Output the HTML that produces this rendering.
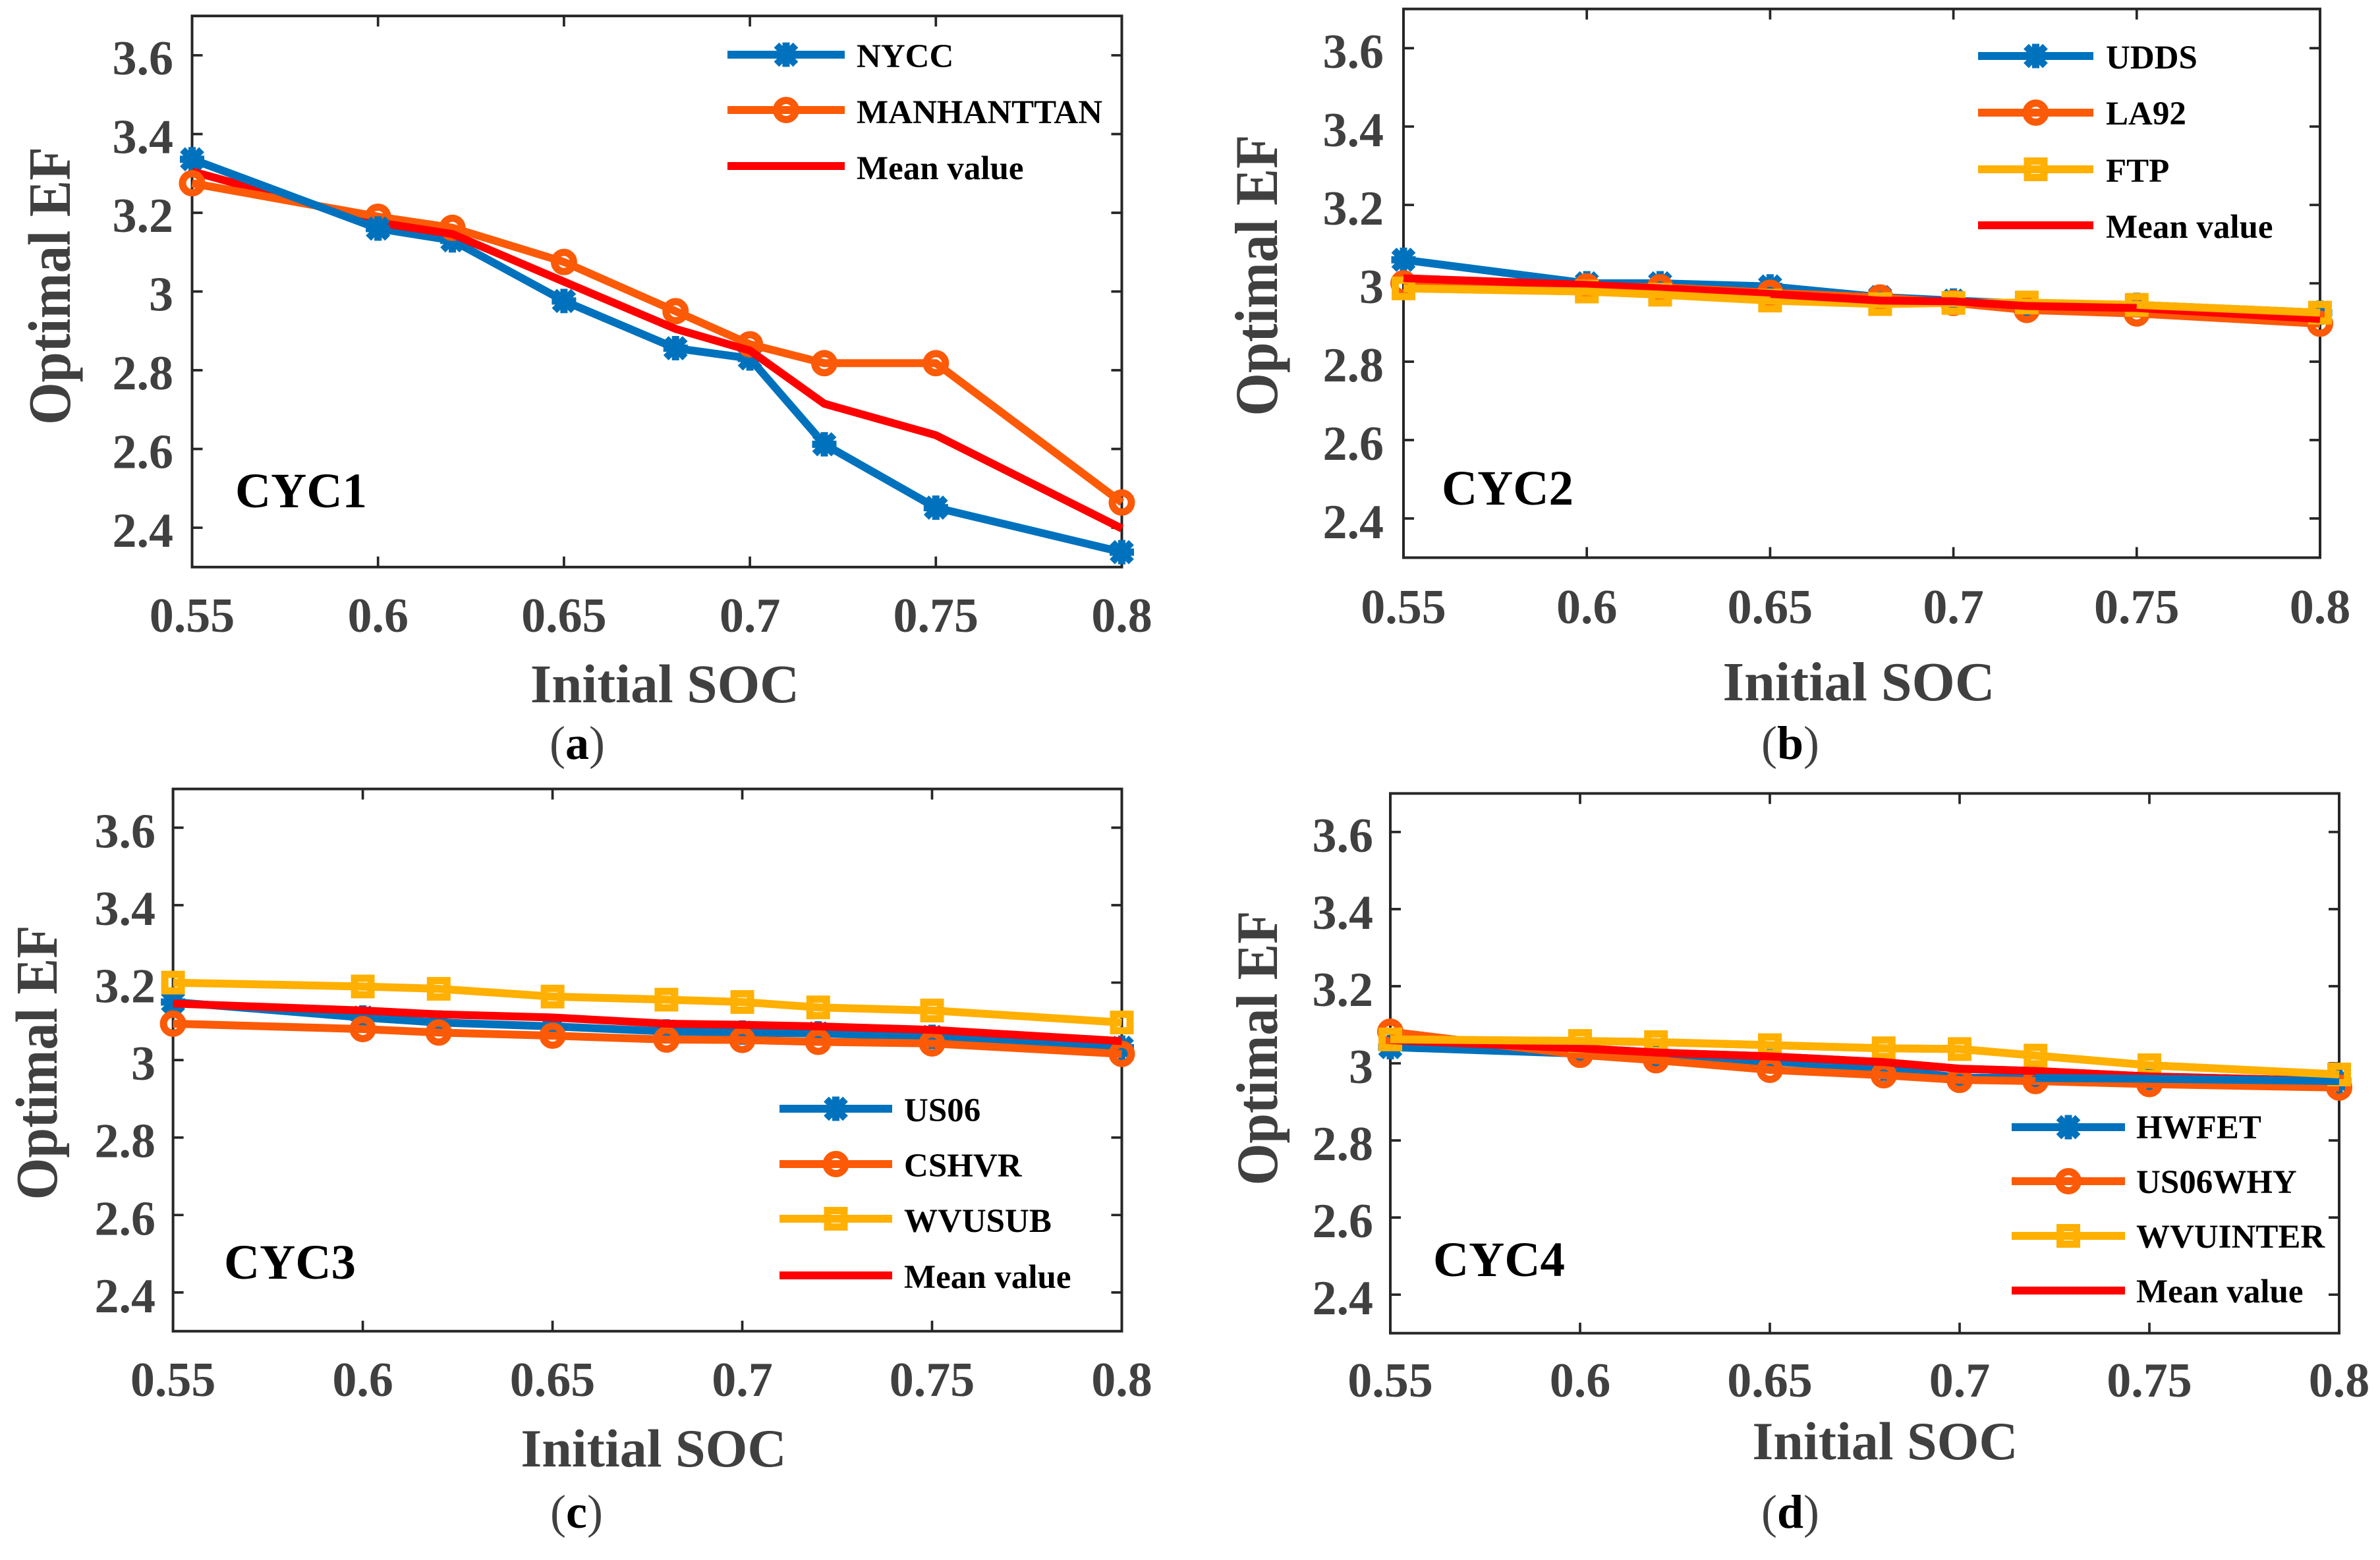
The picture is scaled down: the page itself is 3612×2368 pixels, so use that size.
<!DOCTYPE html>
<html lang="en">
<head>
<meta charset="utf-8">
<title>Optimal EF versus Initial SOC for driving cycle groups CYC1 to CYC4</title>
<style>
  html, body { margin: 0; padding: 0; background: #ffffff; }
  svg { display: block; font-family: "Liberation Serif", serif; }
  .axis-title { font-weight: 700; font-size: 83px; fill: #404040; }
  .cycle-label { font-weight: 700; font-size: 75px; fill: #000000; }
  .caption { font-size: 72px; fill: #404040; text-anchor: middle; }
  .caption tspan.letter { font-weight: 700; fill: #000000; }
  .tick-label { font-weight: 700; font-size: 74px; fill: #404040; }
  .legend-text { font-weight: 700; font-size: 51px; fill: #000000; }
</style>
</head>
<body>
<svg id="figure" xmlns="http://www.w3.org/2000/svg" width="3612" height="2368" viewBox="0 0 3612 2368">
  <rect width="3612" height="2368" fill="#ffffff"/>

  <g id="panel-a">
    <text class="axis-title" transform="translate(106 434) rotate(-90) scale(1 1.1)" text-anchor="middle">Optimal EF</text>
    <text class="axis-title" x="1009" y="1066" text-anchor="middle">Initial SOC</text>
    <text class="cycle-label" x="357" y="770">CYC1</text>
    <text class="caption" x="876" y="1152">(<tspan class="letter">a</tspan>)</text>
  </g>

  <g id="panel-b">
    <text class="axis-title" style="font-size:84px" transform="translate(1938 418) rotate(-90) scale(1 1.1)" text-anchor="middle">Optimal EF</text>
    <text class="axis-title" style="font-size:84px" x="2821" y="1063" text-anchor="middle">Initial SOC</text>
    <text class="cycle-label" x="2188" y="766">CYC2</text>
    <text class="caption" x="2717" y="1152">(<tspan class="letter">b</tspan>)</text>
  </g>

  <g id="panel-c">
    <text class="axis-title" style="font-size:82px" transform="translate(86 1613) rotate(-90) scale(1 1.1)" text-anchor="middle">Optimal EF</text>
    <text class="axis-title" style="font-size:82px" x="992" y="2226" text-anchor="middle">Initial SOC</text>
    <text class="cycle-label" x="340" y="1941">CYC3</text>
    <text class="caption" x="875" y="2319">(<tspan class="letter">c</tspan>)</text>
  </g>

  <g id="panel-d">
    <text class="axis-title" style="font-size:82px" transform="translate(1938 1591) rotate(-90) scale(1 1.08)" text-anchor="middle">Optimal EF</text>
    <text class="axis-title" style="font-size:82px" x="2861" y="2215" text-anchor="middle">Initial SOC</text>
    <text class="cycle-label" x="2175" y="1937">CYC4</text>
    <text class="caption" x="2717" y="2319">(<tspan class="letter">d</tspan>)</text>
  </g>
</svg>

<script>
/* ---------- shared axis values ---------- */
const socValues = [0.55, 0.6, 0.62, 0.65, 0.68, 0.7, 0.72, 0.75, 0.8];
const xTickValues = [0.55, 0.6, 0.65, 0.7, 0.75, 0.8];
const xTickLabels = ['0.55', '0.6', '0.65', '0.7', '0.75', '0.8'];
const yTickValues = [2.4, 2.6, 2.8, 3, 3.2, 3.4, 3.6];
const yTickLabels = ['2.4', '2.6', '2.8', '3', '3.2', '3.4', '3.6'];
const xDomain = [0.55, 0.8];
const yDomain = [2.3, 3.7];

/* ---------- CYC1 ---------- */
const nyccValues = [3.336, 3.16, 3.13, 2.976, 2.856, 2.83, 2.612, 2.451, 2.338];
const manhattanValues = [3.275, 3.19, 3.162, 3.075, 2.95, 2.866, 2.818, 2.818, 2.464];
const cyc1MeanValues = [3.305, 3.175, 3.146, 3.025, 2.905, 2.85, 2.715, 2.635, 2.398];

/* ---------- CYC2 ---------- */
const uddsValues = [3.06, 3.0, 3.0, 2.992, 2.965, 2.956, 2.948, 2.945, 2.925];
const la92Values = [3.0, 2.992, 2.99, 2.976, 2.964, 2.95, 2.932, 2.923, 2.897];
const ftpValues = [2.987, 2.979, 2.971, 2.956, 2.947, 2.95, 2.951, 2.945, 2.925];
const cyc2MeanValues = [3.013, 2.996, 2.987, 2.973, 2.956, 2.954, 2.942, 2.937, 2.909];

/* ---------- CYC3 ---------- */
const us06Values = [3.15, 3.11, 3.097, 3.087, 3.074, 3.071, 3.069, 3.06, 3.032];
const cshvrValues = [3.094, 3.08, 3.071, 3.063, 3.053, 3.052, 3.047, 3.043, 3.016];
const wvusubValues = [3.2, 3.19, 3.184, 3.164, 3.156, 3.15, 3.136, 3.128, 3.097];
const cyc3MeanValues = [3.146, 3.128, 3.118, 3.11, 3.094, 3.091, 3.087, 3.078, 3.049];

/* ---------- CYC4 ---------- */
const hwfetValues = [3.042, 3.025, 3.013, 3.005, 2.986, 2.963, 2.962, 2.96, 2.954];
const us06whyValues = [3.082, 3.022, 3.008, 2.983, 2.969, 2.957, 2.954, 2.946, 2.937];
const wvuinterValues = [3.062, 3.058, 3.055, 3.047, 3.039, 3.037, 3.02, 2.995, 2.971];
const cyc4MeanValues = [3.06, 3.039, 3.028, 3.018, 3.003, 2.986, 2.98, 2.966, 2.954];

/* ---------- styles ---------- */
const BLUE = '#0072BD';
const ORANGE = '#FC5A07';
const YELLOW = '#FFB000';
const RED = '#FF0000';
const AXIS_COLOR = '#262626';
const LINE_WIDTH = 12;
const SVG_NS = 'http://www.w3.org/2000/svg';

/* ---------- panel layout ---------- */
const panels = [
  {
    id: 'panel-a', key: 'a', left: 291.5, right: 1702.5, top: 24.2, bottom: 860.8,
    yLabelX: 263, yLabelDy: 29, xLabelY: 959,
    legend: { x1: 1104, x2: 1282, textX: 1300, lineY: [83, 167, 252], textY: [102, 187, 272] },
    series: [
      { name: 'NYCC', key: 'nycc', values: nyccValues, color: BLUE, marker: 'star' },
      { name: 'MANHANTTAN', key: 'manhanttan', values: manhattanValues, color: ORANGE, marker: 'circle' },
      { name: 'Mean value', key: 'mean', values: cyc1MeanValues, color: RED, marker: 'none' }
    ],
    overlays: [
      { series: 1, from: 0, to: 1 },
      { series: 0, from: 0, to: 1 },
      { series: 1, marks: [0] },
      { series: 0, marks: [1] }
    ]
  },
  {
    id: 'panel-b', key: 'b', left: 2130, right: 3521, top: 13.6, bottom: 846.5,
    yLabelX: 2100, yLabelDy: 30, xLabelY: 946,
    legend: { x1: 3002, x2: 3177, textX: 3196, lineY: [85, 171, 257, 342], textY: [104, 189, 276, 361] },
    series: [
      { name: 'UDDS', key: 'udds', values: uddsValues, color: BLUE, marker: 'star' },
      { name: 'LA92', key: 'la92', values: la92Values, color: ORANGE, marker: 'circle' },
      { name: 'FTP', key: 'ftp', values: ftpValues, color: YELLOW, marker: 'square' },
      { name: 'Mean value', key: 'mean', values: cyc2MeanValues, color: RED, marker: 'none' }
    ],
    overlays: [{ series: 2, from: 0, to: 3 }, { series: 2, from: 7, to: 8 }]
  },
  {
    id: 'panel-c', key: 'c', left: 262.6, right: 1702.5, top: 1197.6, bottom: 2020.7,
    yLabelX: 236, yLabelDy: 30, xLabelY: 2119,
    legend: { x1: 1183, x2: 1354, textX: 1372, lineY: [1683, 1767, 1850, 1936], textY: [1702, 1786, 1870, 1955] },
    series: [
      { name: 'US06', key: 'us06', values: us06Values, color: BLUE, marker: 'star' },
      { name: 'CSHVR', key: 'cshvr', values: cshvrValues, color: ORANGE, marker: 'circle' },
      { name: 'WVUSUB', key: 'wvusub', values: wvusubValues, color: YELLOW, marker: 'square' },
      { name: 'Mean value', key: 'mean', values: cyc3MeanValues, color: RED, marker: 'none' }
    ],
    overlays: []
  },
  {
    id: 'panel-d', key: 'd', left: 2110, right: 3550, top: 1204.4, bottom: 2023.7,
    yLabelX: 2084, yLabelDy: 30, xLabelY: 2120,
    legend: { x1: 3053, x2: 3225, textX: 3242, lineY: [1711, 1793, 1876, 1959], textY: [1728, 1811, 1894, 1977] },
    series: [
      { name: 'HWFET', key: 'hwfet', values: hwfetValues, color: BLUE, marker: 'star' },
      { name: 'US06WHY', key: 'us06why', values: us06whyValues, color: ORANGE, marker: 'circle' },
      { name: 'WVUINTER', key: 'wvuinter', values: wvuinterValues, color: YELLOW, marker: 'square' },
      { name: 'Mean value', key: 'mean', values: cyc4MeanValues, color: RED, marker: 'none' }
    ],
    overlays: [{ series: 3, from: 1, to: 8 }, { series: 0, from: 6, to: 8 }, { series: 2, from: 0, to: 8 }]
  }
];

/* ---------- helpers ---------- */
function make(tag, attrs, parent) {
  const el = document.createElementNS(SVG_NS, tag);
  Object.keys(attrs).forEach(function (k) { el.setAttribute(k, attrs[k]); });
  parent.appendChild(el);
  return el;
}

function makeXScale(p) {
  return function (v) {
    return p.left + (v - xDomain[0]) / (xDomain[1] - xDomain[0]) * (p.right - p.left);
  };
}

function makeYScale(p) {
  return function (v) {
    return p.top + (yDomain[1] - v) / (yDomain[1] - yDomain[0]) * (p.bottom - p.top);
  };
}

function drawMarker(type, cx, cy, color, parent) {
  const g = make('g', { transform: 'translate(' + cx + ' ' + cy + ')' }, parent);
  if (type === 'star') {
    make('path', {
      d: 'M0 -18.5V18.5M-18.5 0H18.5M-14.5 -14.5L14.5 14.5M-14.5 14.5L14.5 -14.5',
      fill: 'none', stroke: color, 'stroke-width': 11
    }, g);
    make('circle', { r: 12.5, fill: color }, g);
  } else if (type === 'circle') {
    make('circle', { r: 14.5, fill: 'none', stroke: color, 'stroke-width': 11 }, g);
  } else if (type === 'square') {
    make('rect', { x: -12.5, y: -12.5, width: 25, height: 25, fill: 'none', stroke: color, 'stroke-width': 11 }, g);
  }
  return g;
}

function drawPanel(p) {
  const root = document.getElementById(p.id);
  const x = makeXScale(p);
  const y = makeYScale(p);

  /* axes frame */
  const frame = make('rect', {
    x: p.left, y: p.top, width: p.right - p.left, height: p.bottom - p.top,
    fill: 'none', stroke: AXIS_COLOR, 'stroke-width': 4
  }, root);
  
  

  /* x ticks */
  xTickValues.forEach(function (v, i) {
    const tx = x(v);
    const tick = make('path', {
      d: 'M' + tx + ' ' + p.bottom + 'V' + (p.bottom - 16) + 'M' + tx + ' ' + p.top + 'V' + (p.top + 16),
      stroke: AXIS_COLOR, 'stroke-width': 3.7, fill: 'none'
    }, root);
    
    
    const label = make('text', { x: tx, y: p.xLabelY, 'text-anchor': 'middle', 'class': 'tick-label' }, root);
    label.textContent = xTickLabels[i];
    
    
  });

  /* y ticks */
  yTickValues.forEach(function (v, i) {
    const ty = y(v);
    const tick = make('path', {
      d: 'M' + p.left + ' ' + ty + 'H' + (p.left + 16) + 'M' + p.right + ' ' + ty + 'H' + (p.right - 16),
      stroke: AXIS_COLOR, 'stroke-width': 3.7, fill: 'none'
    }, root);
    
    
    const label = make('text', { x: p.yLabelX, y: ty + p.yLabelDy, 'text-anchor': 'end', 'class': 'tick-label' }, root);
    label.textContent = yTickLabels[i];
    
    
  });

  /* series */
  p.series.forEach(function (s) {
    const g = make('g', {}, root);
    
    
    const pts = s.values.map(function (v, i) { return x(socValues[i]) + ',' + y(v); }).join(' ');
    const line = make('polyline', {
      points: pts, fill: 'none', stroke: s.color,
      'stroke-width': LINE_WIDTH, 'stroke-linejoin': 'round'
    }, g);
    
    
    if (s.marker !== 'none') {
      s.values.forEach(function (v, i) {
        const mark = drawMarker(s.marker, x(socValues[i]), y(v), s.color, g);
        
        
      });
    }
  });

  /* stacking order between crossing lines and markers */
  p.overlays.forEach(function (o) {
    const s = p.series[o.series];
    if (o.marks) {
      o.marks.forEach(function (i) {
        const top = drawMarker(s.marker, x(socValues[i]), y(s.values[i]), s.color, root);
        
        
      });
      return;
    }
    const pts = [];
    for (let i = o.from; i <= o.to; i++) {
      pts.push(x(socValues[i]) + ',' + y(s.values[i]));
    }
    const seg = make('polyline', {
      points: pts.join(' '), fill: 'none', stroke: s.color,
      'stroke-width': LINE_WIDTH, 'stroke-linejoin': 'round'
    }, root);
    
    
  });

  /* legend */
  const legend = make('g', {}, root);
  
  
  p.series.forEach(function (s, i) {
    const entry = make('g', {}, legend);
    
    
    make('line', {
      x1: p.legend.x1, x2: p.legend.x2, y1: p.legend.lineY[i], y2: p.legend.lineY[i],
      stroke: s.color, 'stroke-width': LINE_WIDTH
    }, entry);
    drawMarker(s.marker, (p.legend.x1 + p.legend.x2) / 2, p.legend.lineY[i], s.color, entry);
    const text = make('text', { x: p.legend.textX, y: p.legend.textY[i], 'class': 'legend-text' }, entry);
    text.textContent = s.name;
    
    
  });
}

panels.forEach(drawPanel);
</script>
</body>
</html>
